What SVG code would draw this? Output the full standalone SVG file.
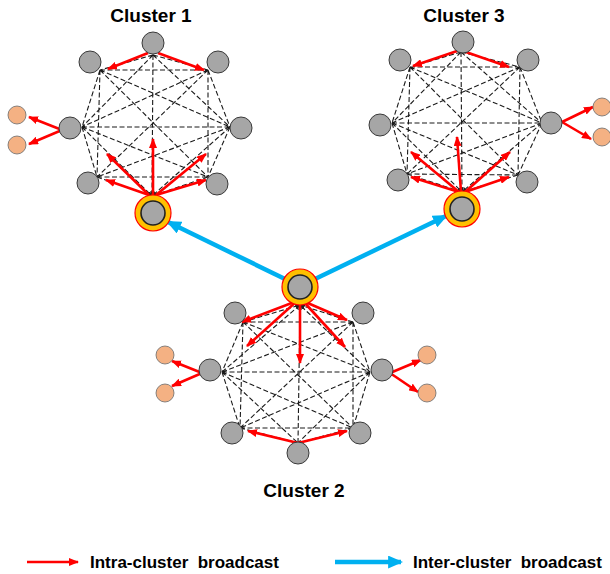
<svg xmlns="http://www.w3.org/2000/svg" width="610" height="574" viewBox="0 0 610 574">
<defs>
<style>
.mesh{fill:none;stroke:#1a1a1a;stroke-width:1.1;stroke-dasharray:5,2.5}
.hl{fill:none;stroke:#1a1a1a;stroke-width:1.1;stroke-dasharray:5,2.5;marker-end:url(#tiny)}
.ra{fill:none;stroke:#FF0000;stroke-width:2.6;marker-end:url(#rh)}
.ba{fill:none;stroke:#00B0F0;stroke-width:4.5;marker-end:url(#bh)}
.n{fill:#A6A6A6;stroke:#3A3A3A;stroke-width:1}
.o{fill:#F4B183;stroke:#6A6A6A;stroke-width:0.8}
.ring{fill:#FFC000;stroke:#FF0000;stroke-width:1.2}
.hn{fill:#A6A6A6;stroke:#222;stroke-width:1.6}
.t{font-family:"Liberation Sans",Arial,sans-serif;font-weight:bold;fill:#000}
</style>
<marker id="rh" viewBox="0 0 10 8" refX="9" refY="4" markerWidth="10" markerHeight="8" markerUnits="userSpaceOnUse" orient="auto"><path d="M0,0L10,4L0,8z" fill="#FF0000"/></marker>
<marker id="bh" viewBox="0 0 14 12" refX="12" refY="6" markerWidth="15" markerHeight="13" markerUnits="userSpaceOnUse" orient="auto"><path d="M0,0L14,6L0,12z" fill="#00B0F0"/></marker>
<marker id="tiny" viewBox="0 0 6 5" refX="6" refY="2.5" markerWidth="5" markerHeight="4" markerUnits="userSpaceOnUse" orient="auto"><path d="M0,0L6,2.5L0,5z" fill="#222"/></marker>
</defs>
<rect width="610" height="574" fill="#fff"/>

<g id="connectors">
<path class="mesh" d="M153,55L100,70M153,55L208,70M153,55L82,127M153,55L230,127M100,70L208,70M100,70L82,127M100,70L230,127M100,70L97,177M100,70L208,177M208,70L82,127M208,70L230,127M208,70L97,177M208,70L208,177M82,127L230,127M82,127L97,177M82,127L208,177M230,127L97,177M230,127L208,177M97,177L208,177"/>
<line class="hl" x1="153" y1="55" x2="152" y2="196"/>
<line class="hl" x1="82" y1="127" x2="152" y2="196"/>
<line class="hl" x1="230" y1="127" x2="152" y2="196"/>
<line class="hl" x1="97" y1="177" x2="152" y2="196"/>
<line class="hl" x1="208" y1="177" x2="152" y2="196"/>

<path class="mesh" d="M461,52L410,67M461,52L520,67M461,52L392,123M461,52L542,123M410,67L520,67M410,67L392,123M410,67L542,123M410,67L407,174M410,67L518,175M520,67L392,123M520,67L542,123M520,67L407,174M520,67L518,175M392,123L542,123M392,123L407,174M392,123L518,175M542,123L407,174M542,123L518,175M407,174L518,175"/>
<line class="hl" x1="461" y1="52" x2="462" y2="192"/>
<line class="hl" x1="392" y1="123" x2="462" y2="192"/>
<line class="hl" x1="542" y1="123" x2="462" y2="192"/>
<line class="hl" x1="407" y1="174" x2="462" y2="192"/>
<line class="hl" x1="518" y1="175" x2="462" y2="192"/>

<path class="mesh" d="M243,322L353,322M243,322L222,372M243,322L370,372M243,322L240,428M243,322L353,428M353,322L222,372M353,322L370,372M353,322L240,428M353,322L353,428M222,372L370,372M222,372L240,428M222,372L353,428M222,372L298,443M370,372L240,428M370,372L353,428M370,372L298,443M240,428L353,428M240,428L298,443M353,428L298,443"/>
<line class="hl" x1="243" y1="322" x2="300" y2="305"/>
<line class="hl" x1="353" y1="322" x2="300" y2="305"/>
<line class="hl" x1="222" y1="372" x2="300" y2="305"/>
<line class="hl" x1="370" y1="372" x2="300" y2="305"/>
<line class="hl" x1="298" y1="443" x2="300" y2="305"/>

<line class="ra" x1="148" y1="53" x2="108" y2="69"/>
<line class="ra" x1="158" y1="53" x2="204" y2="70"/>
<line class="ra" x1="62" y1="130" x2="29" y2="117"/>
<line class="ra" x1="62" y1="130" x2="29" y2="144"/>
<line class="ra" x1="149" y1="195" x2="107" y2="154"/>
<line class="ra" x1="149" y1="195" x2="106" y2="180"/>
<line class="ra" x1="153" y1="195" x2="153" y2="139"/>
<line class="ra" x1="156" y1="195" x2="206" y2="154"/>
<line class="ra" x1="156" y1="195" x2="206" y2="180"/>

<line class="ra" x1="457" y1="51" x2="413" y2="66"/>
<line class="ra" x1="463" y1="51" x2="509" y2="67"/>
<line class="ra" x1="562" y1="122" x2="593" y2="107"/>
<line class="ra" x1="562" y1="122" x2="591" y2="139"/>
<line class="ra" x1="459" y1="192" x2="411" y2="177"/>
<line class="ra" x1="459" y1="192" x2="411" y2="152"/>
<line class="ra" x1="461" y1="192" x2="457" y2="137"/>
<line class="ra" x1="465" y1="192" x2="510" y2="152"/>
<line class="ra" x1="465" y1="192" x2="509" y2="177"/>

<line class="ra" x1="297" y1="301" x2="242" y2="322"/>
<line class="ra" x1="297" y1="301" x2="247" y2="346"/>
<line class="ra" x1="300" y1="302" x2="300" y2="363"/>
<line class="ra" x1="303" y1="301" x2="345" y2="347"/>
<line class="ra" x1="303" y1="301" x2="347" y2="320"/>
<line class="ra" x1="298" y1="443" x2="248" y2="431"/>
<line class="ra" x1="298" y1="443" x2="347" y2="431"/>
<line class="ra" x1="202" y1="373" x2="172" y2="361"/>
<line class="ra" x1="202" y1="373" x2="172" y2="386"/>
<line class="ra" x1="390" y1="373" x2="421" y2="360"/>
<line class="ra" x1="390" y1="373" x2="418" y2="392"/>

<line class="ba" x1="285" y1="279" x2="168" y2="222"/>
<line class="ba" x1="315" y1="279" x2="446" y2="216"/>

<line class="ra" x1="27" y1="562" x2="78" y2="562"/>
<line class="ba" x1="335" y1="562" x2="401" y2="562"/>
</g>

<g id="cluster1">
<circle class="n" cx="153" cy="43" r="11"/>
<circle class="n" cx="90" cy="62" r="11"/>
<circle class="n" cx="218" cy="62" r="11"/>
<circle class="n" cx="70" cy="128" r="11"/>
<circle class="n" cx="241" cy="128" r="11"/>
<circle class="n" cx="88" cy="183" r="11"/>
<circle class="n" cx="217" cy="184" r="11"/>
<circle class="o" cx="17" cy="115" r="9"/>
<circle class="o" cx="17" cy="145" r="9"/>
</g>
<g id="head1">
<circle class="ring" cx="153" cy="213" r="18"/>
<circle class="hn" cx="153" cy="213" r="12"/>
</g>

<g id="cluster3">
<circle class="n" cx="463" cy="42" r="11"/>
<circle class="n" cx="400" cy="60" r="11"/>
<circle class="n" cx="528" cy="60" r="11"/>
<circle class="n" cx="380" cy="125" r="11"/>
<circle class="n" cx="551" cy="123" r="11"/>
<circle class="n" cx="398" cy="180" r="11"/>
<circle class="n" cx="527" cy="182" r="11"/>
<circle class="o" cx="602" cy="107" r="9"/>
<circle class="o" cx="602" cy="137" r="9"/>
</g>
<g id="head3">
<circle class="ring" cx="462" cy="209" r="18"/>
<circle class="hn" cx="462" cy="209" r="12"/>
</g>

<g id="cluster2">
<circle class="n" cx="235" cy="313" r="11"/>
<circle class="n" cx="363" cy="313" r="11"/>
<circle class="n" cx="210" cy="370" r="11"/>
<circle class="n" cx="382" cy="370" r="11"/>
<circle class="n" cx="232" cy="433" r="11"/>
<circle class="n" cx="360" cy="433" r="11"/>
<circle class="n" cx="298" cy="453" r="11"/>
<circle class="o" cx="165" cy="355" r="9"/>
<circle class="o" cx="165" cy="393" r="9"/>
<circle class="o" cx="427" cy="355" r="9"/>
<circle class="o" cx="427" cy="393" r="9"/>
</g>
<g id="head2">
<circle class="ring" cx="300" cy="287" r="18"/>
<circle class="hn" cx="300" cy="287" r="12"/>
</g>

<g id="labels">
<text class="t" x="151" y="22" font-size="19" text-anchor="middle">Cluster 1</text>
<text class="t" x="464" y="22" font-size="19" text-anchor="middle">Cluster 3</text>
<text class="t" x="304" y="497" font-size="19" text-anchor="middle">Cluster 2</text>
<text class="t" x="90" y="568" font-size="17" style="white-space:pre">Intra-cluster  broadcast</text>
<text class="t" x="413" y="568" font-size="17" style="white-space:pre">Inter-cluster  broadcast</text>
</g>
</svg>
